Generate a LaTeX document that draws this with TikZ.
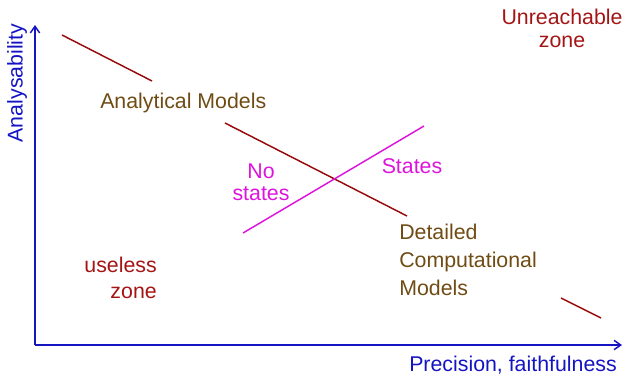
\documentclass[tikz,border=0pt]{standalone}
\usepackage{fontspec}
\setmainfont{Liberation Sans}
\usetikzlibrary{arrows.meta}
\definecolor{AxisBlue}{RGB}{20,20,195}
\definecolor{LineRed}{RGB}{150,10,10}
\definecolor{ZoneRed}{RGB}{165,20,20}
\definecolor{ModelBrown}{RGB}{112,76,20}
\definecolor{StateMag}{RGB}{220,20,220}

\begin{document}
\begin{tikzpicture}[x=0.75pt,y=-0.75pt,
 ax/.style={-{Straight Barb[length=5pt,width=7pt]},AxisBlue,line width=1.1pt},
 t/.style={inner sep=0pt,font=\fontsize{16}{16}\selectfont},
 ln/.style={LineRed,line width=1.1pt},
 st/.style={StateMag,line width=1.1pt}]
\useasboundingbox (0,0) rectangle (628,375);
% axes
\coordinate (o) at (35,345);
\coordinate (ytip) at (35,25);
\coordinate (xtip) at (622,345);
\draw[ax] (o)--(ytip);
\draw[ax] (o)--(xtip);
\node[t,AxisBlue,rotate=90] (ylab) at (17,83) {Analysability};
\node[t,AxisBlue,anchor=north] (xlab) at (513,356) {Precision, faithfulness};
% models line
\coordinate (m1) at (62,35);
\coordinate (m2) at (152,81);
\coordinate (m3) at (225,123);
\coordinate (m4) at (407,216);
\coordinate (m5) at (561,298);
\coordinate (m6) at (601,318);
\draw[ln] (m1)--(m2);\draw[ln] (m3)--(m4);\draw[ln] (m5)--(m6);
% states line
\coordinate (s1) at (243,233);
\coordinate (s2) at (424,126);
\draw[st] (s1)--(s2);
\node[t,ModelBrown,anchor=north west] (ana) at (100,93) {Analytical Models};
\node[t,ModelBrown,anchor=north west,align=left,font=\fontsize{16}{21}\selectfont] (det) at (399,224) {Detailed\\Computational\\Models};
\node[t,StateMag,anchor=north,align=center] (nost) at (261,164) {No\\states};
\node[t,StateMag,anchor=north] (yst) at (412,158) {States};
\node[t,ZoneRed,anchor=north east,align=right,font=\fontsize{16}{19.5}\selectfont] (use) at (157,257) {useless\\zone};
\node[t,ZoneRed,anchor=north,align=center,font=\fontsize{16}{17}\selectfont] (unr) at (562,9) {Unreachable\\zone};
\end{tikzpicture}
\end{document}
